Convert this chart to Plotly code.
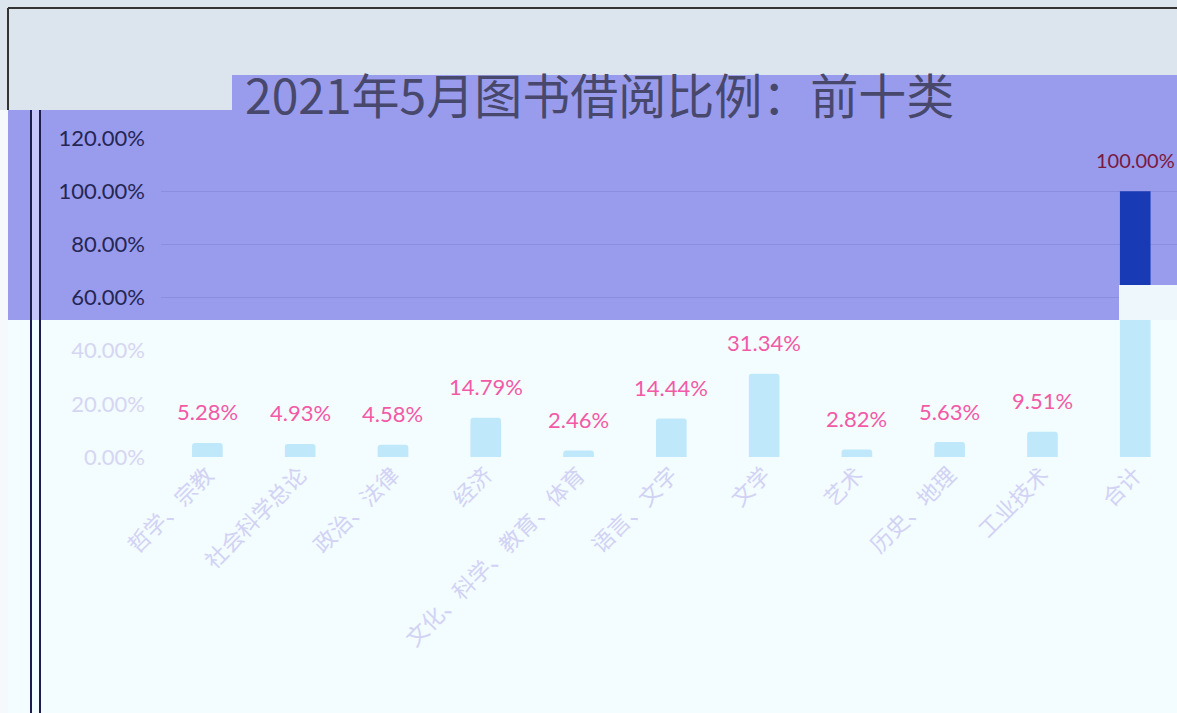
import plotly.graph_objects as go

# ---- data ----
categories = ["哲学、宗教", "社会科学总论", "政治、法律", "经济", "文化、科学、教育、体育",
              "语言、文字", "文学", "艺术", "历史、地理", "工业技术", "合计"]
ratios = [0.0528, 0.0493, 0.0458, 0.1479, 0.0246, 0.1444, 0.3134, 0.0282, 0.0563, 0.0951, 1.0000]
title_text = "2021年5月图书借阅比例：前十类"
ticks_low = [0.0, 0.2, 0.4]
ticks_high = [0.6, 0.8, 1.0, 1.2]

W, H = 1177, 713
def px(x):
    return x / W
def py(y):
    return (H - y) / H

Y0, YTOP, YBAND = 457, 138, 320          # pixel rows: 0%, 120%, band edge
unit = (Y0 - YTOP) / 1.2
split = (Y0 - YBAND) / unit

fig = go.Figure()

fig.add_trace(go.Bar(x=categories, y=ratios, yaxis="y", width=0.33,
                     marker=dict(color="#bfe8fa", line=dict(width=0)),
                     marker_cornerradius=3, hoverinfo="skip"))
fig.add_trace(go.Bar(x=categories, y=ratios, yaxis="y2", xaxis="x", width=0.33,
                     marker=dict(color="#183ab5", line=dict(width=0)),
                     hoverinfo="skip"))

annotations = []
for c, v in zip(categories, ratios):
    high = v > split
    annotations.append(dict(
        x=c, y=v, xref="x", yref="y2" if high else "y", yshift=31,
        yanchor="middle", xanchor="center", text=f"{v:.2%}", showarrow=False,
        font=dict(family="Lato, Noto Sans", size=20 if high else 22,
                  color="#7a1840" if high else "#f25aa6")))

annotations.append(dict(x=px(599), y=py(93), xref="paper", yref="paper",
                        xanchor="center", yanchor="middle",
                        text=title_text, showarrow=False,
                        font=dict(family="Noto Sans CJK SC", size=48, color="#48486c")))

shapes = [
    dict(type="rect", xref="paper", yref="paper", x0=0, x1=1, y0=0, y1=py(YBAND),
         fillcolor="#f3fcff", line_width=0, layer="below"),
    dict(type="rect", xref="paper", yref="paper", x0=0, x1=px(8), y0=0, y1=py(110),
         fillcolor="#f6f9fc", line_width=0, layer="below"),
    dict(type="rect", xref="paper", yref="paper", x0=0, x1=1, y0=py(110), y1=1,
         fillcolor="#dce4ee", line_width=0, layer="below"),
    dict(type="rect", xref="paper", yref="paper", x0=px(8), x1=1, y0=py(YBAND), y1=py(110),
         fillcolor="#999cec", line_width=0, layer="below"),
    dict(type="rect", xref="paper", yref="paper", x0=px(232), x1=1, y0=py(110), y1=py(75),
         fillcolor="#999cec", line_width=0, layer="below"),
    dict(type="rect", xref="paper", yref="paper", x0=px(31), x1=px(40), y0=py(YBAND), y1=py(110),
         fillcolor="#c6c6fb", line_width=0, layer="below"),
    dict(type="line", xref="paper", yref="paper", x0=px(31), x1=px(31), y0=0, y1=py(110),
         line=dict(color="#1e1e4e", width=2)),
    dict(type="line", xref="paper", yref="paper", x0=px(40), x1=px(40), y0=0, y1=py(110),
         line=dict(color="#1e1e4e", width=2)),
    dict(type="line", xref="paper", yref="paper", x0=px(8), x1=1, y0=py(8), y1=py(8),
         line=dict(color="#333333", width=2)),
    dict(type="line", xref="paper", yref="paper", x0=px(8), x1=px(8), y0=py(8), y1=py(110),
         line=dict(color="#333333", width=2)),
    dict(type="rect", xref="paper", yref="paper", x0=px(1119), x1=1, y0=py(YBAND), y1=py(285),
         fillcolor="#eef8fc", line_width=0, layer="above"),
]

fig.update_layout(
    width=W, height=H,
    margin=dict(l=0, r=0, t=0, b=0),
    paper_bgcolor="rgba(0,0,0,0)", plot_bgcolor="rgba(0,0,0,0)",
    showlegend=False, barmode="overlay",
    font=dict(family="Noto Sans CJK SC"),
    xaxis=dict(domain=[px(161), 1], range=[-0.5, 10.45], anchor="y",
               tickangle=-45, showgrid=False, showline=False, ticks="",
               tickfont=dict(size=22, color="#d2d2f4", family="Noto Sans CJK SC"),
               automargin=False),
    yaxis=dict(domain=[py(Y0), py(YBAND)], range=[0, split], tickvals=ticks_low,
               tickformat=".2%", showgrid=False, zeroline=False, showline=False,
               ticklabelstandoff=15,
               tickfont=dict(size=22, color="#d6d6f2", family="Lato, Noto Sans"),
               automargin=False),
    yaxis2=dict(domain=[py(YBAND), py(YTOP)], range=[split, 1.2], tickvals=ticks_high,
                tickformat=".2%", anchor="x", showgrid=True, gridcolor="#8a8edc",
                gridwidth=1, zeroline=False, showline=False, ticklabelstandoff=15,
                tickfont=dict(size=22, color="#262654", family="Lato, Noto Sans"),
                automargin=False),
    shapes=shapes,
    annotations=annotations,
)

fig.write_html("out.html", config={"displayModeBar": False},
               post_script="document.body.style.margin='0';document.body.style.overflow='hidden';")
